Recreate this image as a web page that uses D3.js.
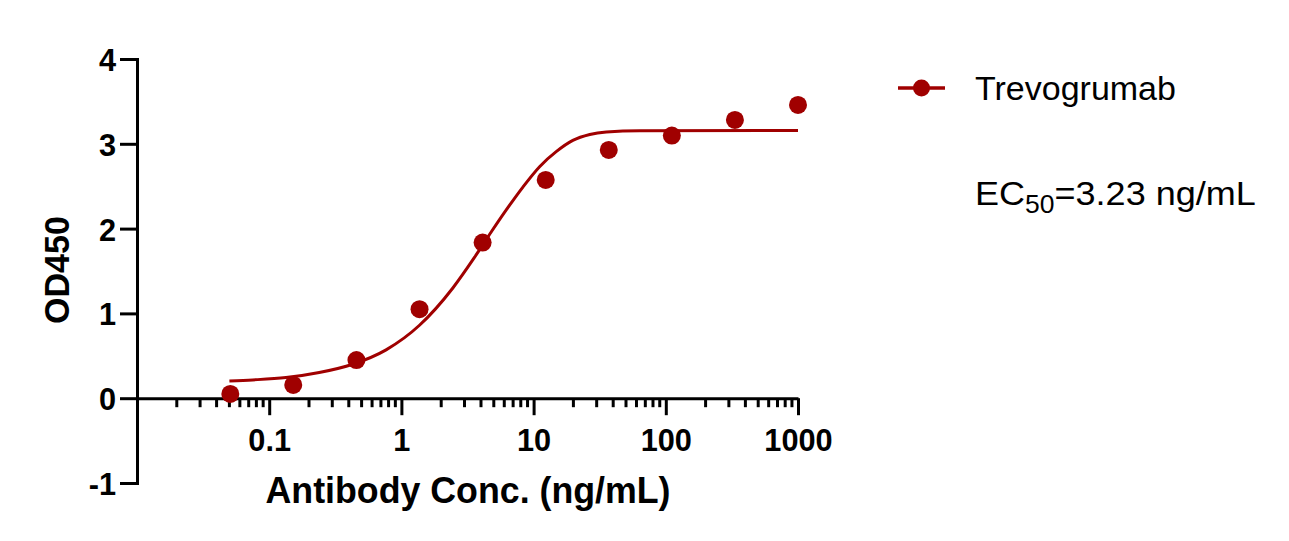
<!DOCTYPE html>
<html><head><meta charset="utf-8">
<script src="https://cdn.jsdelivr.net/npm/d3@7"></script>
<style>
body{margin:0;background:#fff}
svg{display:block}
text{font-family:"Liberation Sans",Arial,Helvetica,sans-serif}
</style>
</head><body>
<svg id="chart" width="1289" height="541"></svg>
<script>
// ---- data ----
const concentrations = [0.0508, 0.152, 0.457, 1.372, 4.115, 12.35, 37.04, 111.1, 333.3, 1000];
const od450 = [0.05, 0.157, 0.45, 1.05, 1.835, 2.574, 2.928, 3.097, 3.282, 3.459];
// fitted curve, points
const fitConc = [0.05, 0.075, 0.134, 0.239, 0.428, 0.766, 1.37, 2.45, 3.57, 4.64, 6.21, 8.30, 11.1, 14.9, 19.8, 26.6, 35.5, 63.5, 1000];
const fitOD   = [0.204, 0.216, 0.243, 0.302, 0.40, 0.57, 0.86, 1.30, 1.66, 1.93, 2.22, 2.49, 2.73, 2.91, 3.04, 3.11, 3.14, 3.155, 3.156];
const xTickValues = [0.1, 1, 10, 100, 1000];
const xTickLabels = ["0.1", "1", "10", "100", "1000"];
const yTickValues = [-1, 0, 1, 2, 3, 4];
const yTickLabels = ["-1", "0", "1", "2", "3", "4"];
const seriesName = "Trevogrumab";
const ec50Value = "3.23 ng/mL";
const xTitle = "Antibody Conc. (ng/mL)";
const yTitle = "OD450";

const RED = "#a00000";
const svg = d3.select("#chart");

const x = d3.scaleLog().domain([0.01, 1000]).range([137, 798]);
const y = d3.scaleLinear().domain([-1, 4]).range([483, 59]);

// minor ticks
const minorTicks = [];
[0.01, 0.1, 1, 10, 100].forEach(d => { for (let k = 2; k <= 9; k++) minorTicks.push(d * k); });

// ---- x axis ----
const gx = svg.append("g").attr("transform", `translate(0,${y(0)})`);
gx.call(d3.axisBottom(x).tickValues(xTickValues).tickSize(17).tickSizeOuter(0).tickFormat((d, i) => xTickLabels[i]));
gx.select(".domain").attr("stroke-width", 3).attr("stroke", "#000");
gx.selectAll(".tick line").attr("stroke-width", 3).attr("stroke", "#000");
gx.selectAll(".tick text").attr("y", 0).attr("dy", 0)
  .attr("transform", "translate(0,53) scale(0.96,1)")
  .attr("font-size", 32).attr("font-weight", "bold").attr("fill", "#000")
  .attr("font-family", '"Liberation Sans",Arial,sans-serif');
gx.selectAll(".minor").data(minorTicks).enter().append("line")
  .attr("class", "minor")
  .attr("x1", d => x(d)).attr("x2", d => x(d))
  .attr("y1", 0).attr("y2", 9)
  .attr("stroke", "#000").attr("stroke-width", 3);

// ---- y axis ----
const gy = svg.append("g").attr("transform", `translate(137,0)`);
gy.call(d3.axisLeft(y).tickValues(yTickValues).tickSize(17).tickSizeOuter(0).tickFormat((d, i) => yTickLabels[i]));
gy.select(".domain").attr("stroke-width", 3).attr("stroke", "#000").attr("stroke-linecap", "square");
gy.selectAll(".tick line").attr("stroke-width", 3).attr("stroke", "#000");
gy.selectAll(".tick text").attr("x", 0).attr("dy", 0)
  .attr("transform", "translate(-21,11.5) scale(0.96,1)")
  .attr("text-anchor", "end")
  .attr("font-size", 32).attr("font-weight", "bold").attr("fill", "#000")
  .attr("font-family", '"Liberation Sans",Arial,sans-serif');

// ---- titles ----
svg.append("text")
  .attr("x", 468).attr("y", 503)
  .attr("text-anchor", "middle")
  .attr("font-size", 36).attr("font-weight", "bold")
  .attr("textLength", 405).attr("lengthAdjust", "spacingAndGlyphs")
  .text(xTitle);

svg.append("text")
  .attr("transform", "translate(69,270) rotate(-90)")
  .attr("text-anchor", "middle")
  .attr("font-size", 35).attr("font-weight", "bold")
  .attr("textLength", 108).attr("lengthAdjust", "spacingAndGlyphs")
  .text(yTitle);

// ---- fitted curve ----
const fit = fitConc.map((c, i) => [c, fitOD[i]]);
svg.append("path")
  .datum(fit)
  .attr("fill", "none")
  .attr("stroke", RED)
  .attr("stroke-width", 3)
  .attr("d", d3.line().x(d => x(d[0])).y(d => y(d[1])).curve(d3.curveMonotoneX));

// ---- points ----
const pts = concentrations.map((c, i) => [c, od450[i]]);
svg.selectAll(".pt").data(pts).enter().append("circle")
  .attr("class", "pt")
  .attr("cx", d => x(d[0])).attr("cy", d => y(d[1]))
  .attr("r", 9).attr("fill", RED);

// ---- legend ----
const lg = svg.append("g");
lg.append("line").attr("x1", 898).attr("x2", 945).attr("y1", 88).attr("y2", 88)
  .attr("stroke", RED).attr("stroke-width", 3.5);
lg.append("circle").attr("cx", 921.5).attr("cy", 88).attr("r", 8.5).attr("fill", RED);
lg.append("g").attr("transform", "translate(975,0) scale(1.0,1)")
  .append("text").attr("x", 0).attr("y", 100).attr("font-size", 34).attr("fill", "#000").text(seriesName);
const ec = lg.append("g").attr("transform", "translate(975,0) scale(1.06,1)")
  .append("text").attr("x", 0).attr("y", 205).attr("font-size", 34).attr("fill", "#000");
ec.append("tspan").text("EC");
ec.append("tspan").attr("font-size", 25).attr("dy", 8).text("50");
ec.append("tspan").attr("dy", -8).text("=" + ec50Value);
</script>
</body></html>
